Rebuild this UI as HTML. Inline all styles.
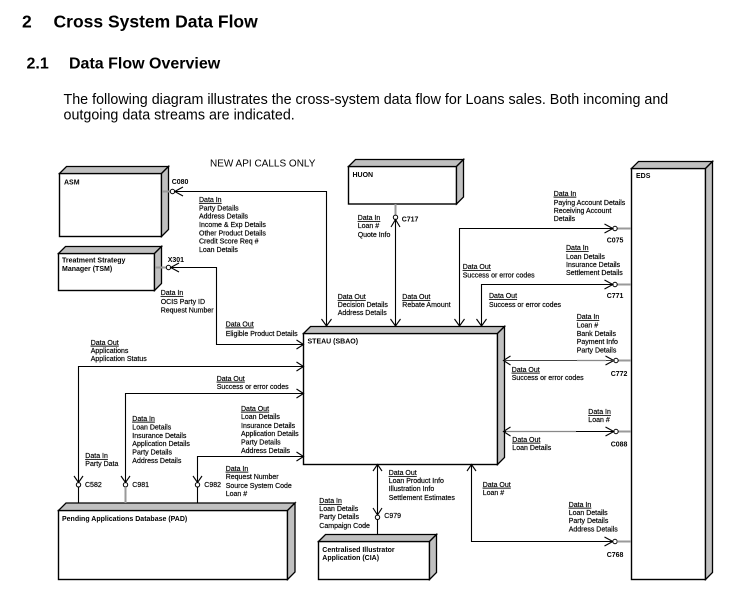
<!DOCTYPE html>
<html><head><meta charset="utf-8"><style>
html,body{margin:0;padding:0;background:#fff;}
svg{display:block;}
text{font-family:"Liberation Sans",Arial,sans-serif;fill:#000;}
.t{font-size:7px;}
.t text,text.t{stroke:#000;stroke-width:0.18px;}
.b{font-size:7px;font-weight:bold;}
.u{text-decoration:underline;}
.ln{stroke:#000;stroke-width:1.1;fill:none;}
.gs{stroke:#999;stroke-width:2;fill:none;}
.bx{stroke:#000;stroke-width:1.4;fill:#fff;}
.bg{stroke:#000;stroke-width:1.3;fill:#c0c0c0;}
.ci{stroke:#000;stroke-width:1;fill:#fff;}
</style></head><body>
<svg width="745" height="595" viewBox="0 0 745 595" xmlns="http://www.w3.org/2000/svg">
<!-- headings -->
<text x="22" y="27.5" style="font-size:17.5px;font-weight:bold">2</text>
<text x="53.5" y="27.5" style="font-size:17.5px;font-weight:bold">Cross System Data Flow</text>
<text x="26.5" y="68.5" style="font-size:16px;font-weight:bold">2.1</text>
<text x="69" y="68.5" style="font-size:16px;font-weight:bold">Data Flow Overview</text>
<text x="63.5" y="104" style="font-size:14.3px">The following diagram illustrates the cross-system data flow for Loans sales. Both incoming and</text>
<text x="63.5" y="119.5" style="font-size:14.3px">outgoing data streams are indicated.</text>

<text x="210" y="166.3" style="font-size:10px">NEW API CALLS ONLY</text>

<!-- ASM -->
<rect class="bx" x="59.5" y="173.5" width="102" height="63"/>
<polygon class="bg" points="59.5,173.5 66.5,166.5 168.5,166.5 161.5,173.5"/>
<polygon class="bg" points="161.5,173.5 168.5,166.5 168.5,229.5 161.5,236.5"/>
<text class="b" x="64" y="184.3">ASM</text>

<!-- TSM -->
<rect class="bx" x="58.5" y="253.5" width="96" height="37"/>
<polygon class="bg" points="58.5,253.5 65.5,246.5 161.5,246.5 154.5,253.5"/>
<polygon class="bg" points="154.5,253.5 161.5,246.5 161.5,283.5 154.5,290.5"/>
<text class="b" x="62" y="262.5">Treatment Strategy</text>
<text class="b" x="62" y="270.8">Manager (TSM)</text>

<!-- HUON -->
<rect class="bx" x="348.5" y="166.5" width="108" height="37.5"/>
<polygon class="bg" points="348.5,166.5 355.5,159.5 463.5,159.5 456.5,166.5"/>
<polygon class="bg" points="456.5,166.5 463.5,159.5 463.5,197 456.5,204"/>
<text class="b" x="352.5" y="177">HUON</text>

<!-- STEAU -->
<rect class="bx" x="303.5" y="333.5" width="194" height="131"/>
<polygon class="bg" points="303.5,333.5 310.5,326.5 504.5,326.5 497.5,333.5"/>
<polygon class="bg" points="497.5,333.5 504.5,326.5 504.5,457.5 497.5,464.5"/>
<text class="b" x="307.5" y="343.5">STEAU (SBAO)</text>

<!-- EDS -->
<rect class="bx" x="631.5" y="168.5" width="74" height="411"/>
<polygon class="bg" points="631.5,168.5 638.5,161.5 712.5,161.5 705.5,168.5"/>
<polygon class="bg" points="705.5,168.5 712.5,161.5 712.5,572.5 705.5,579.5"/>
<text class="b" x="636" y="178.2">EDS</text>

<!-- PAD -->
<rect class="bx" x="58.5" y="510.5" width="229" height="69"/>
<polygon class="bg" points="58.5,510.5 66,503 295,503 287.5,510.5"/>
<polygon class="bg" points="287.5,510.5 295,503 295,572 287.5,579.5"/>
<text class="b" x="62" y="521.2">Pending Applications Database (PAD)</text>

<!-- CIA -->
<rect class="bx" x="318.5" y="541.5" width="111" height="38"/>
<polygon class="bg" points="318.5,541.5 325.5,534.5 436.5,534.5 429.5,541.5"/>
<polygon class="bg" points="429.5,541.5 436.5,534.5 436.5,572.5 429.5,579.5"/>
<text class="b" x="322.3" y="551.8">Centralised Illustrator</text>
<text class="b" x="322.3" y="559.8">Application (CIA)</text>

<!-- C080 -->
<line class="gs" x1="162" y1="191.5" x2="170.3" y2="191.5"/>
<circle class="ci" cx="172.5" cy="191.5" r="2.2"/>
<polyline class="ln" points="183,187 174.7,191.5 183,196"/>
<polyline class="ln" points="174.7,191.5 326.5,191.5 326.5,326"/>
<polyline class="ln" points="321.5,319 326.5,326 331.5,319"/>
<text class="b" x="171.7" y="184">C080</text>

<!-- X301 -->
<line class="gs" x1="155" y1="267.5" x2="166.3" y2="267.5"/>
<circle class="ci" cx="168.5" cy="267.5" r="2.2"/>
<polyline class="ln" points="179,263 170.7,267.5 179,272"/>
<polyline class="ln" points="170.7,267.5 216.5,267.5 216.5,344.5 303.5,344.5"/>
<polyline class="ln" points="296.5,340 303.5,344.5 296.5,349"/>
<text class="b" x="167.7" y="262">X301</text>

<!-- C717 -->
<line class="gs" x1="395.5" y1="204" x2="395.5" y2="215.1"/>
<circle class="ci" cx="395.5" cy="217.3" r="2.2"/>
<polyline class="ln" points="391,227 395.5,219.5 400,227"/>
<line class="ln" x1="395.5" y1="219.5" x2="395.5" y2="326"/>
<polyline class="ln" points="390.5,319 395.5,326 400.5,319"/>
<text class="b" x="401.7" y="221.5">C717</text>

<!-- C075 -->
<line class="gs" x1="631" y1="228.5" x2="617.2" y2="228.5"/>
<circle class="ci" cx="615" cy="228.5" r="2.2"/>
<polyline class="ln" points="604.5,224 612.8,228.5 604.5,233"/>
<polyline class="ln" points="612.8,228.5 459.5,228.5 459.5,326"/>
<polyline class="ln" points="454.5,319 459.5,326 464.5,319"/>
<text class="b" x="606.7" y="242.5">C075</text>

<!-- C771 -->
<line class="gs" x1="631" y1="284.5" x2="617.2" y2="284.5"/>
<circle class="ci" cx="615" cy="284.5" r="2.2"/>
<polyline class="ln" points="604.5,280 612.8,284.5 604.5,289"/>
<polyline class="ln" points="612.8,284.5 481.5,284.5 481.5,326"/>
<polyline class="ln" points="476.5,319 481.5,326 486.5,319"/>
<text class="b" x="606.7" y="298.2">C771</text>

<!-- C772 -->
<line class="gs" x1="631" y1="360.5" x2="618.2" y2="360.5"/>
<circle class="ci" cx="616" cy="360.5" r="2.2"/>
<polyline class="ln" points="605.5,356 613.8,360.5 605.5,365"/>
<line class="ln" x1="613.8" y1="360.5" x2="503.5" y2="360.5" style="stroke:#444"/>
<line x1="577" y1="360.5" x2="606" y2="360.5" style="stroke:#888;stroke-width:1.3"/>
<polyline class="ln" points="510.5,356 503.5,360.5 510.5,365"/>
<text class="b" x="610.7" y="375.8">C772</text>

<!-- C088 -->
<line class="gs" x1="631" y1="431.5" x2="618.2" y2="431.5"/>
<circle class="ci" cx="616" cy="431.5" r="2.2"/>
<polyline class="ln" points="605.5,427 613.8,431.5 605.5,436"/>
<line class="ln" x1="613.8" y1="431.5" x2="503.5" y2="431.5"/>
<line x1="506" y1="431.5" x2="576" y2="431.5" style="stroke:#888;stroke-width:1.3"/>
<polyline class="ln" points="510.5,427 503.5,431.5 510.5,436"/>
<text class="b" x="610.7" y="446.5">C088</text>

<!-- C768 -->
<polyline class="ln" points="467,471 471.5,464.5 476,471"/>
<polyline class="ln" points="471.5,464.5 471.5,541.5 612.8,541.5"/>
<polyline class="ln" points="604.5,537 612.8,541.5 604.5,546"/>
<circle class="ci" cx="615" cy="541.5" r="2.2"/>
<line class="gs" x1="617.2" y1="541.5" x2="631" y2="541.5"/>
<text class="b" x="606.7" y="556.8">C768</text>

<!-- C979 -->
<polyline class="ln" points="373,471 377.5,464.5 382,471"/>
<line class="ln" x1="377.5" y1="464.5" x2="377.5" y2="515"/>
<polyline class="ln" points="373,508 377.5,515 382,508"/>
<circle class="ci" cx="377.5" cy="517.3" r="2.2"/>
<line class="ln" x1="377.5" y1="519.5" x2="377.5" y2="534.5"/>
<text class="t" x="384.3" y="517.8">C979</text>

<!-- Left flows to PAD -->
<!-- C582 -->
<polyline class="ln" points="303.5,366.5 78.5,366.5 78.5,482.5"/>
<polyline class="ln" points="296.5,362 303.5,366.5 296.5,371"/>
<polyline class="ln" points="74,476 78.5,482.5 83,476"/>
<circle class="ci" cx="78.5" cy="484.8" r="2.2"/>
<line class="ln" x1="78.5" y1="487" x2="78.5" y2="503"/>
<text class="t" x="85" y="486.8">C582</text>
<!-- C981 -->
<polyline class="ln" points="303.5,393.5 125.5,393.5 125.5,482.5"/>
<polyline class="ln" points="296.5,389 303.5,393.5 296.5,398"/>
<polyline class="ln" points="121,476 125.5,482.5 130,476"/>
<circle class="ci" cx="125.5" cy="484.8" r="2.2"/>
<line class="gs" x1="125.5" y1="487" x2="125.5" y2="503"/>
<text class="t" x="132.3" y="486.8">C981</text>
<!-- C982 -->
<polyline class="ln" points="303.5,456.5 197.5,456.5 197.5,482.5"/>
<polyline class="ln" points="296.5,452 303.5,456.5 296.5,461"/>
<polyline class="ln" points="193,476 197.5,482.5 202,476"/>
<circle class="ci" cx="197.5" cy="484.8" r="2.2"/>
<line class="ln" x1="197.5" y1="487" x2="197.5" y2="503"/>
<text class="t" x="204.3" y="486.8">C982</text>

<!-- Text blocks -->
<g class="t">
<text x="199" y="202"><tspan class="u">Data In</tspan></text>
<text x="199" y="210.4">Party Details</text>
<text x="199" y="218.7">Address Details</text>
<text x="199" y="227.1">Income &amp; Exp Details</text>
<text x="199" y="235.4">Other Product Details</text>
<text x="199" y="243.7">Credit Score Req #</text>
<text x="199" y="252">Loan Details</text>

<text x="160.7" y="295.2" class="u">Data In</text>
<text x="160.7" y="304">OCIS Party ID</text>
<text x="160.7" y="312.5">Request Number</text>

<text x="225.7" y="326.5" class="u">Data Out</text>
<text x="225.7" y="335.8">Eligible Product Details</text>

<text x="357.7" y="220.2" class="u">Data In</text>
<text x="357.7" y="228.2">Loan #</text>
<text x="357.7" y="236.8">Quote Info</text>

<text x="337.7" y="299.2" class="u">Data Out</text>
<text x="337.7" y="307.2">Decision Details</text>
<text x="337.7" y="315.2">Address Details</text>

<text x="402.3" y="299.2" class="u">Data Out</text>
<text x="402.3" y="307.2">Rebate Amount</text>

<text x="553.7" y="195.8" class="u">Data In</text>
<text x="553.7" y="205.2">Paying Account Details</text>
<text x="553.7" y="213.2">Receiving Account</text>
<text x="553.7" y="221.2">Details</text>

<text x="566" y="250.2" class="u">Data In</text>
<text x="566" y="259.2">Loan Details</text>
<text x="566" y="266.8">Insurance Details</text>
<text x="566" y="274.8">Settlement Details</text>

<text x="462.7" y="269.2" class="u">Data Out</text>
<text x="462.7" y="277.5">Success or error codes</text>

<text x="489" y="298.2" class="u">Data Out</text>
<text x="489" y="306.8">Success or error codes</text>

<text x="576.7" y="319.2" class="u">Data In</text>
<text x="576.7" y="327.5">Loan #</text>
<text x="576.7" y="335.8">Bank Details</text>
<text x="576.7" y="344.1">Payment Info</text>
<text x="576.7" y="352.4">Party Details</text>

<text x="511.7" y="371.8" class="u">Data Out</text>
<text x="511.7" y="380.2">Success or error codes</text>

<text x="588.3" y="414.2" class="u">Data In</text>
<text x="588.3" y="421.8">Loan #</text>

<text x="512.3" y="441.8" class="u">Data Out</text>
<text x="512.3" y="449.8">Loan Details</text>

<text x="90.7" y="344.8" class="u">Data Out</text>
<text x="90.7" y="352.8">Applications</text>
<text x="90.7" y="361.2">Application Status</text>

<text x="216.7" y="380.8" class="u">Data Out</text>
<text x="216.7" y="389.2">Success or error codes</text>

<text x="241" y="410.8" class="u">Data Out</text>
<text x="241" y="419.2">Loan Details</text>
<text x="241" y="428">Insurance Details</text>
<text x="241" y="436.2">Application Details</text>
<text x="241" y="444.3">Party Details</text>
<text x="241" y="452.8">Address Details</text>

<text x="132.3" y="420.8" class="u">Data In</text>
<text x="132.3" y="429.6">Loan Details</text>
<text x="132.3" y="438">Insurance Details</text>
<text x="132.3" y="446.2">Application Details</text>
<text x="132.3" y="454.7">Party Details</text>
<text x="132.3" y="462.8">Address Details</text>

<text x="85.3" y="458.2" class="u">Data In</text>
<text x="85.3" y="466">Party Data</text>

<text x="225.7" y="470.8" class="u">Data In</text>
<text x="225.7" y="479.2">Request Number</text>
<text x="225.7" y="487.8">Source System Code</text>
<text x="225.7" y="495.8">Loan #</text>

<text x="388.7" y="475.2" class="u">Data Out</text>
<text x="388.7" y="482.9">Loan Product Info</text>
<text x="388.7" y="491.2">Illustration Info</text>
<text x="388.7" y="500.2">Settlement Estimates</text>

<text x="319.3" y="503.2" class="u">Data In</text>
<text x="319.3" y="511.2">Loan Details</text>
<text x="319.3" y="519.2">Party Details</text>
<text x="319.3" y="528.2">Campaign Code</text>

<text x="482.7" y="486.8" class="u">Data Out</text>
<text x="482.7" y="495.2">Loan #</text>

<text x="568.7" y="506.8" class="u">Data In</text>
<text x="568.7" y="514.8">Loan Details</text>
<text x="568.7" y="523.2">Party Details</text>
<text x="568.7" y="531.5">Address Details</text>
</g>
</svg>
</body></html>
